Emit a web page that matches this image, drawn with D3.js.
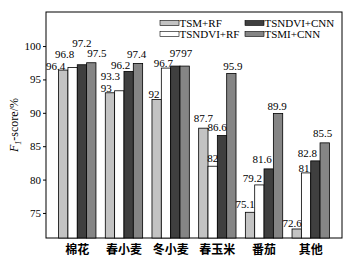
<!DOCTYPE html>
<html>
<head>
<meta charset="utf-8">
<script src="https://d3js.org/d3.v7.min.js"></script>
<style>
body { margin: 0; background: #fff; }
svg text { font-family: "Liberation Serif", "DejaVu Serif", serif; }
</style>
</head>
<body>
<svg id="chart"></svg>
<script>
var categories = ["棉花", "春小麦", "冬小麦", "春玉米", "番茄", "其他"];
var seriesNames = ["TSM+RF", "TSNDVI+RF", "TSNDVI+CNN", "TSMI+CNN"];
var tsmRF      = [96.4, 93,   92,   87.7, 75.1, 72.6];
var tsndviRF   = [96.8, 93.3, 96.7, 82,   79.2, 81];
var tsndviCNN  = [97.2, 96.2, 97,   86.6, 81.6, 82.8];
var tsmiCNN    = [97.5, 97.4, 97,   95.9, 89.9, 85.5];
var yTicks = [75, 80, 85, 90, 95, 100];

// label nudges [dx, dy] per series per category (to keep labels from colliding)
var nudge = [
  [[-7.6, 2], [-3.6, 1.5], [-2.6, 0.5], [0, -4], [-5, -2], [-4.6, 0]],
  [[-8, -7.4], [-9, -8.5], [-2.5, 1], [0, -2], [-7, -1], [-2, 1]],
  [[0, -15.7], [-8, 0], [0, -7], [-5, -2.5], [-6.5, -4], [-8, -2]],
  [[5.6, -3.7], [-1.4, -3], [2, -7], [1.4, -1.4], [-1, -1.5], [-2, -4]]
];

var width = 357, height = 264;
var margin = {top: 12, right: 15, bottom: 26, left: 46};
var colors = ["#c3c3c3", "#ffffff", "#3f3f3f", "#858585"];

var svg = d3.select("#chart").attr("width", width).attr("height", height);

var series = [tsmRF, tsndviRF, tsndviCNN, tsmiCNN];

var x0 = d3.scaleBand()
  .domain(categories)
  .range([margin.left, width - margin.right])
  .paddingInner(0.2)
  .paddingOuter(0.27);

var x1 = d3.scaleBand()
  .domain(d3.range(seriesNames.length))
  .range([0, x0.bandwidth()]);

var y = d3.scaleLinear()
  .domain([71.25, 105.1])
  .range([height - margin.bottom, margin.top]);

// frame
svg.append("rect")
  .attr("x", margin.left).attr("y", margin.top)
  .attr("width", width - margin.left - margin.right)
  .attr("height", height - margin.top - margin.bottom)
  .style("fill", "none").style("stroke", "#000").style("stroke-width", 1);

var yAxis = d3.axisLeft(y).tickValues(yTicks).tickSize(3).tickPadding(2);
var gy = svg.append("g")
  .attr("transform", "translate(" + margin.left + ",0)")
  .call(yAxis);
gy.select(".domain").remove();
gy.selectAll("text").style("font-size", "11px").style("fill", "#000");

// bars
for (var s = 0; s < series.length; s++) {
  svg.append("g").selectAll("rect")
    .data(series[s])
    .enter()
    .append("rect")
    .attr("x", function(d, i) { return x0(categories[i]) + x1(s); })
    .attr("y", function(d) { return y(d); })
    .attr("width", x1.bandwidth())
    .attr("height", function(d) { return y.range()[0] - y(d); })
    .style("fill", colors[s])
    .style("stroke", "#000")
    .style("stroke-width", 0.8);
}

// value labels
for (var s = 0; s < series.length; s++) {
  svg.append("g").selectAll("text")
    .data(series[s])
    .enter()
    .append("text")
    .attr("x", function(d, i) { return x0(categories[i]) + x1(s) + x1.bandwidth() / 2 + nudge[s][i][0]; })
    .attr("y", function(d, i) { return y(d) - 2 + nudge[s][i][1]; })
    .attr("text-anchor", "middle")
    .style("font-size", "11px")
    .style("fill", "#000")
    .text(function(d) { return d; });
}

// category labels
svg.append("g").selectAll("text")
  .data(categories)
  .enter()
  .append("text")
  .attr("x", function(d) { return x0(d) + x0.bandwidth() / 2; })
  .attr("y", height - 10)
  .attr("text-anchor", "middle")
  .style("font-family", "'Noto Sans CJK SC', sans-serif")
  .style("font-size", "12px")
  .style("font-weight", "bold")
  .style("fill", "#000")
  .text(function(d) { return d; });

// y label
var yl = svg.append("text")
  .attr("transform", "translate(18," + ((margin.top + height - margin.bottom) / 2) + ")rotate(-90)")
  .attr("text-anchor", "middle")
  .style("font-size", "12px");
yl.append("tspan").style("font-style", "italic").text("F");
yl.append("tspan").style("font-style", "italic").style("font-size", "8px").attr("dy", 3).text("1");
yl.append("tspan").attr("dy", -3).text("-score/%");

// legend
var legendPos = [[160, 23], [160, 34], [245, 23], [245, 34]];
var leg = svg.append("g").selectAll("g")
  .data(seriesNames)
  .enter()
  .append("g")
  .attr("transform", function(d, i) { return "translate(" + legendPos[i][0] + "," + legendPos[i][1] + ")"; });
leg.append("rect")
  .attr("x", 0).attr("y", -2.5).attr("width", 19).attr("height", 5)
  .style("fill", function(d, i) { return colors[i]; })
  .style("stroke", "#000").style("stroke-width", 0.6);
leg.append("text")
  .attr("x", 19.5).attr("y", 4)
  .style("font-size", "11px")
  .text(function(d) { return d; });
</script>
</body>
</html>
